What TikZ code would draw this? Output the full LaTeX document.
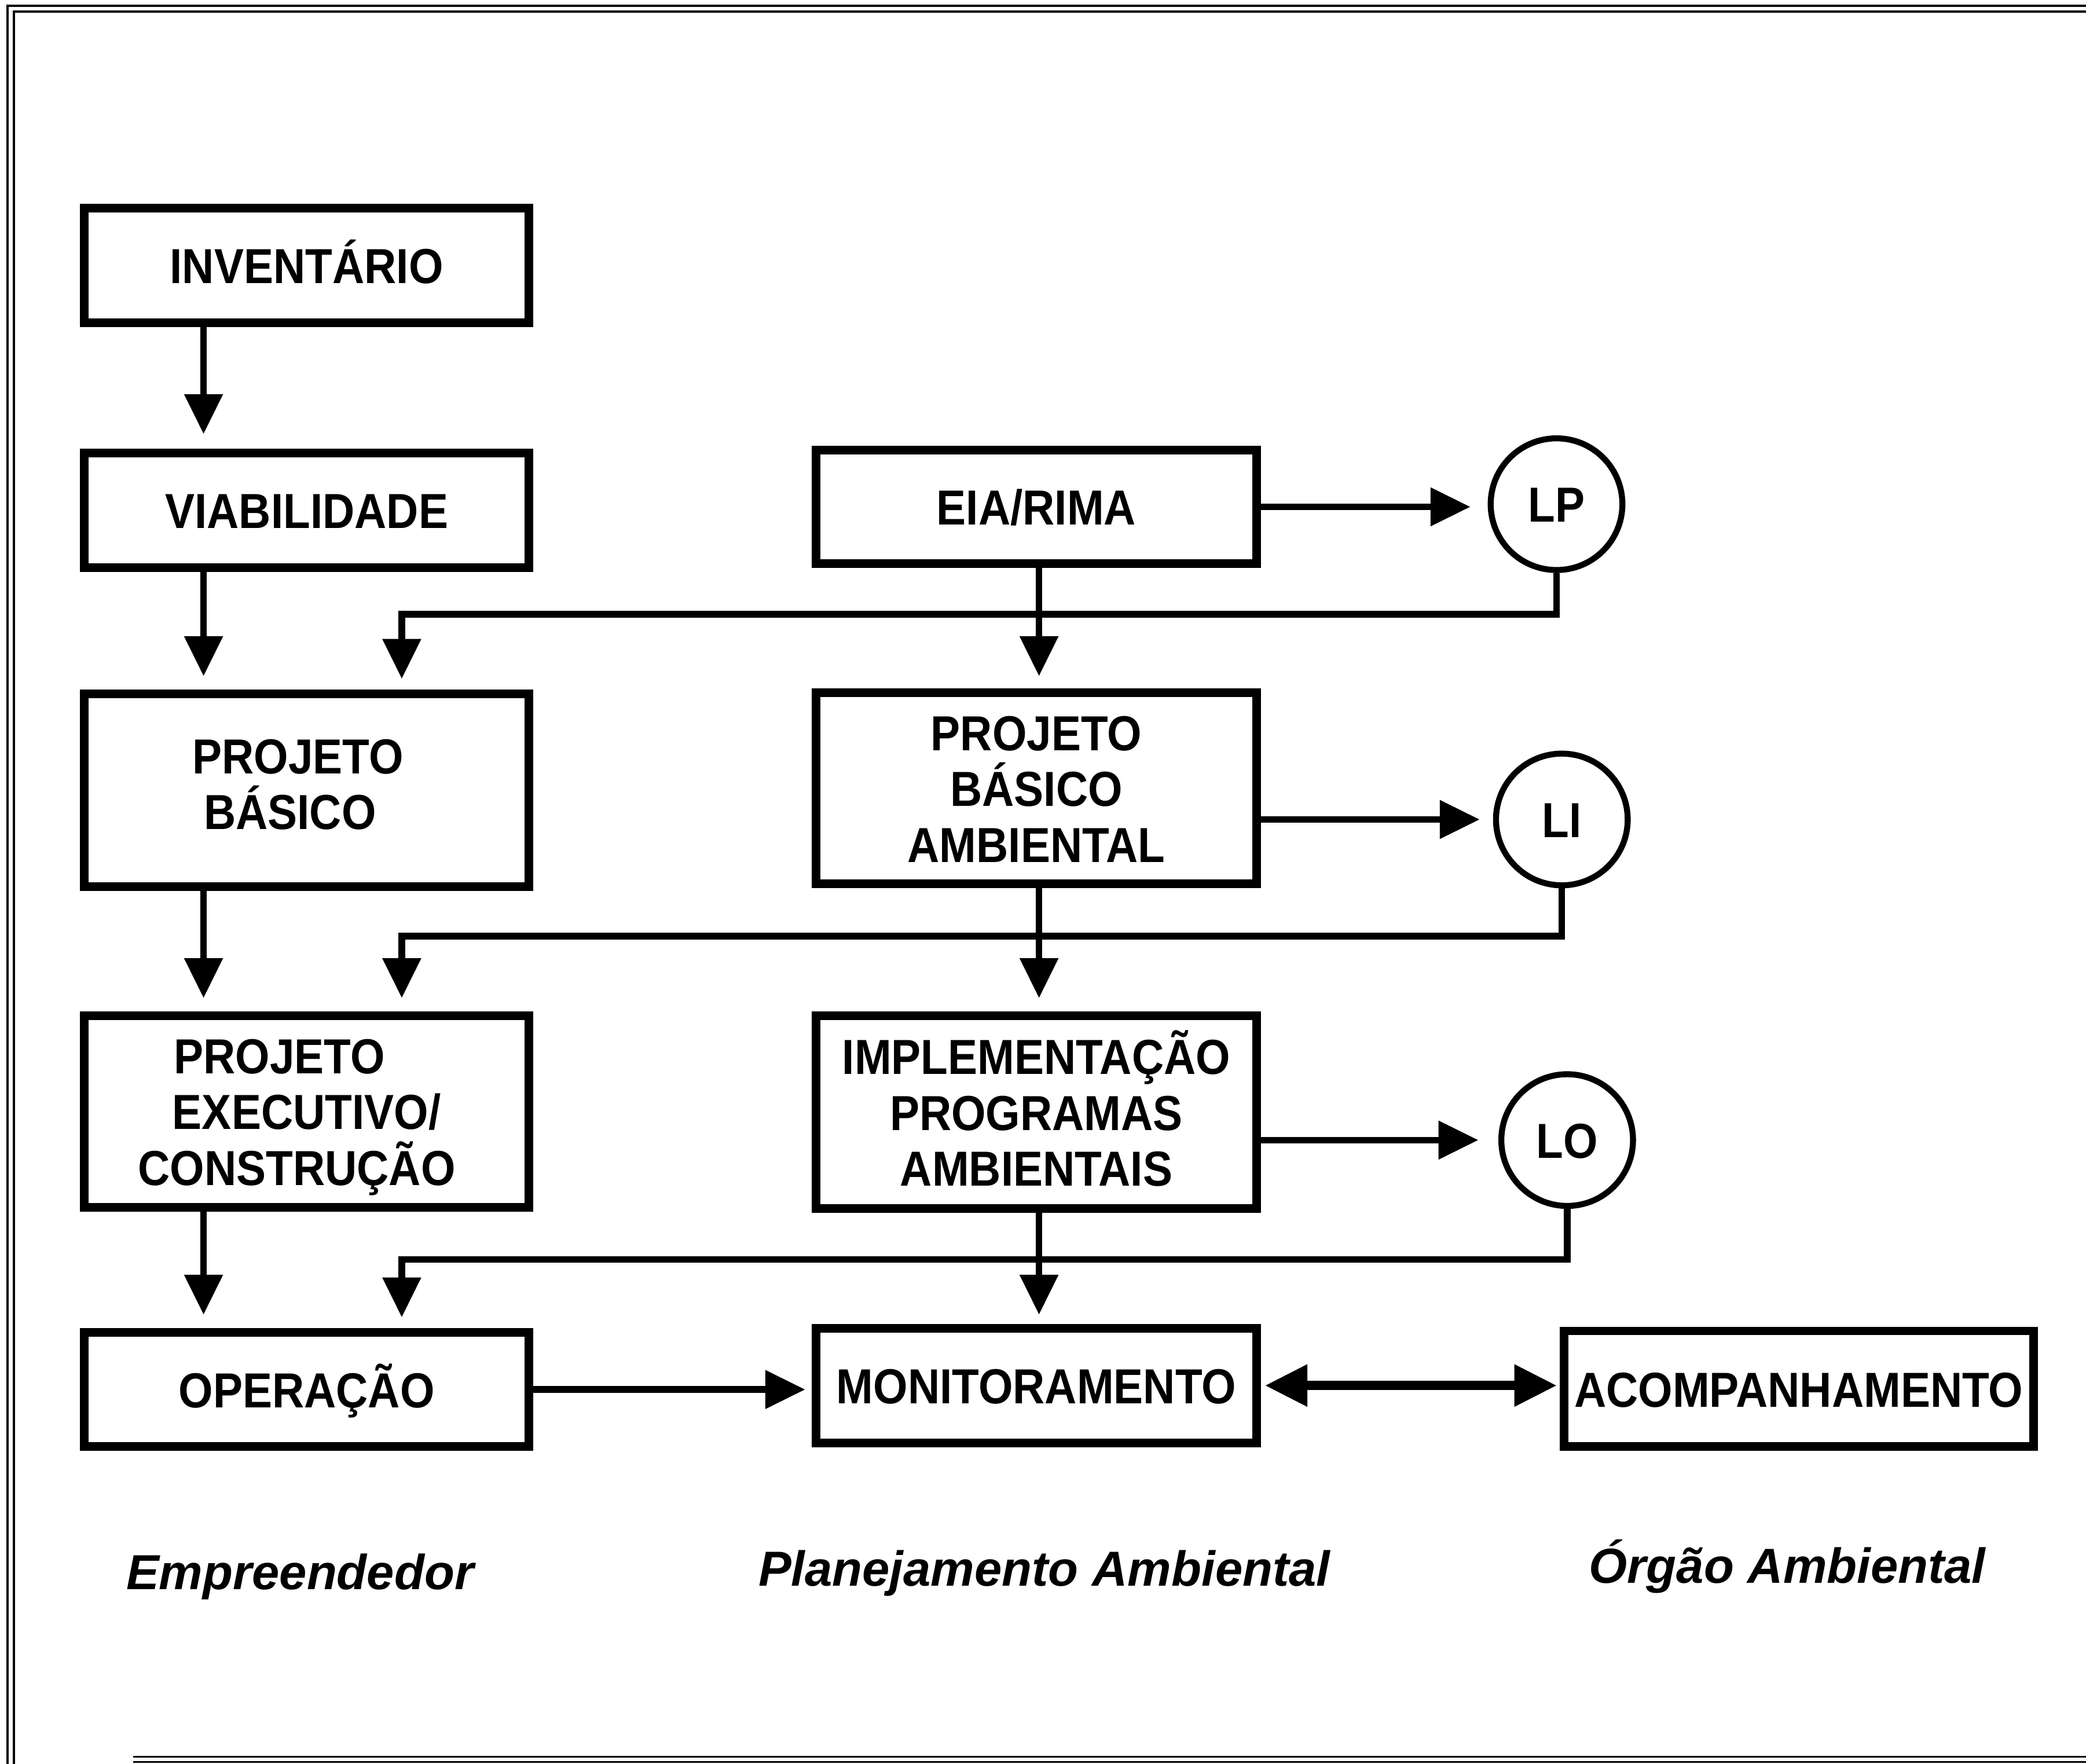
\documentclass[tikz,border=0pt]{standalone}
\usepackage{fontspec}
\newfontfamily\boxfont[FakeStretch=0.9]{Liberation Sans}
\newfontfamily\labfont{Liberation Sans}
\usetikzlibrary{arrows.meta,calc}
\begin{document}
\begin{tikzpicture}[x=1pt,y=-1pt,
  box/.style={draw, line width=6.5pt, inner sep=0pt, align=center,
    text height=27pt, text depth=0pt,
    font={\boxfont\bfseries\fontsize{37pt}{42pt}\selectfont}},
  two/.style={text height=69pt},
  three/.style={text height=111pt},
  circ/.style={draw, circle, line width=4.5pt, inner sep=0pt, minimum size=99pt,
    text height=27pt, text depth=0pt,
    font={\boxfont\bfseries\fontsize{37pt}{42pt}\selectfont}},
  conn/.style={line width=5pt, -{Triangle[length=30pt,width=28pt]}},
  both/.style={line width=7pt, {Triangle[length=32pt,width=30pt]}-{Triangle[length=32pt,width=30pt]}},
  lab/.style={anchor=base, inner sep=0pt,
    font={\labfont\bfseries\itshape\fontsize{37pt}{44pt}\selectfont}},
  frame/.style={line width=1.6pt}
]
\useasboundingbox (0,0) rectangle (1568,1326);
% frame
\draw[frame] (5.7,1326) -- (5.7,4.4) -- (1568,4.4);
\draw[frame] (10.5,1326) -- (10.5,8.7) -- (1568,8.7);
\draw[frame] (100,1320.5) -- (1568,1320.5);
\draw[frame] (100,1324.5) -- (1568,1324.5);

% left column
\node[box, minimum width=334pt, minimum height=86pt] (inv) at (230.5,199.5) {INVENTÁRIO};
\node[box, minimum width=334pt, minimum height=86pt] (via) at (230.5,383.5) {VIABILIDADE};
\node[box, two, text depth=10pt, minimum width=334pt, minimum height=145pt] (pb) at (230.5,594) {PROJETO\hspace*{13pt}\\BÁSICO\hspace*{25pt}};
\node[box, three, minimum width=334pt, minimum height=144pt] (pe) at (230.5,835.5) {PROJETO\hspace*{41pt}\\EXECUTIVO/\hspace*{21pt}\\CONSTRUÇÃO\hspace*{15pt}};
\node[box, minimum width=334pt, minimum height=86pt] (op) at (230.5,1044.5) {OPERAÇÃO};

% middle column
\node[box, minimum width=331pt, minimum height=85pt] (eia) at (779,381) {EIA/RIMA};
\node[box, three, minimum width=331pt, minimum height=144pt] (pba) at (779,592.5) {PROJETO\\BÁSICO\\AMBIENTAL};
\node[box, three, text depth=0pt, minimum width=331pt, minimum height=145pt] (imp) at (779,836) {IMPLEMENTAÇÃO\\PROGRAMAS\\AMBIENTAIS};
\node[box, minimum width=331pt, minimum height=86pt] (mon) at (779,1041.5) {MONITORAMENTO};

% right
\node[box, minimum width=353pt, minimum height=87pt] (aco) at (1352,1044) {ACOMPANHAMENTO};
\node[circ] (lp) at (1170,379) {LP};
\node[circ] (li) at (1174,616) {LI};
\node[circ] (lo) at (1178,857) {LO};

% column coordinates
\coordinate (cL) at (153,0);
\coordinate (cB) at (302,0);
\coordinate (cM) at (781,0);

% vertical flow, left
\draw[conn, shorten >=11pt] (inv.south -| cL) -- (via.north -| cL);
\draw[conn, shorten >=10pt] (via.south -| cL) -- (pb.north -| cL);
\draw[conn, shorten >=10pt] (pb.south -| cL) -- (pe.north -| cL);
\draw[conn, shorten >=10pt] (pe.south -| cL) -- (op.north -| cL);

% vertical flow, middle
\draw[conn, shorten >=9pt] (eia.south -| cM) -- (pba.north -| cM);
\draw[conn, shorten >=10pt] (pba.south -| cM) -- (imp.north -| cM);
\draw[conn, shorten >=7pt] (imp.south -| cM) -- (mon.north -| cM);

% to licences
\draw[conn, shorten >=13pt] (eia.east) -- (eia.east -| lp.west);
\draw[conn, shorten >=10pt] (pba.east |- li.west) -- (li.west);
\draw[conn, shorten >=15pt] (imp.east |- lo.west) -- (lo.west);

% licence feedback
\draw[conn, shorten >=8pt] (lp.south) -- ++(0,31) -| (pb.north -| cB);
\draw[conn, shorten >=10pt] (li.south) -- ++(0,36) -| (pe.north -| cB);
\draw[conn, shorten >=8pt] (lo.south) -- ++(0,38) -| (op.north -| cB);

% bottom row
\draw[conn, shorten >=5pt] (op.east) -- (op.east -| mon.west);
\draw[both, shorten <=3pt, shorten >=2pt] (mon.east) -- (mon.east -| aco.west);

% labels
\node[lab] (emp) at (225.5,1195) {Empreendedor};
\node[lab] (pla) at (785,1192) {Planejamento Ambiental};
\node[lab] (org) at (1343.5,1190) {Órgão Ambiental};
\end{tikzpicture}
\end{document}
